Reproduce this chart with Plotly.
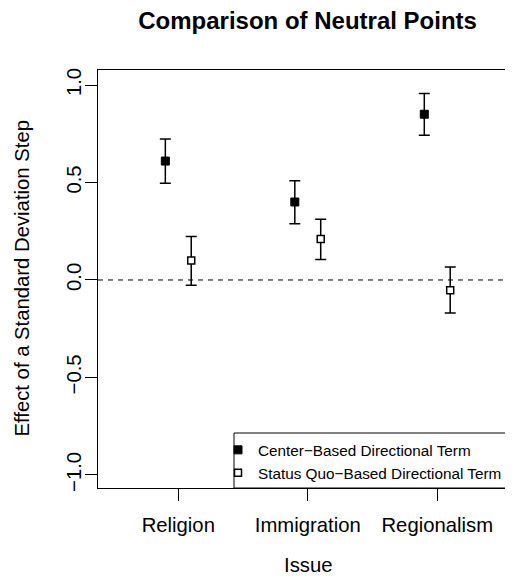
import plotly.graph_objects as go

# ---- data ----
issues = ["Religion", "Immigration", "Regionalism"]
center_est = [0.61, 0.40, 0.85]
center_lo = [0.496, 0.289, 0.742]
center_hi = [0.723, 0.509, 0.957]
sq_est = [0.10, 0.21, -0.053]
sq_lo = [-0.027, 0.105, -0.170]
sq_hi = [0.223, 0.311, 0.067]
yticks = [-1.0, -0.5, 0.0, 0.5, 1.0]
ytick_labels = ["\u22121.0", "\u22120.5", "0.0", "0.5", "1.0"]
series_names = ["Center\u2212Based Directional Term", "Status Quo\u2212Based Directional Term"]

FONT = "Liberation Sans, Arial, Helvetica, sans-serif"
BASE = 20.3

# the page body has an 8px margin, so the figure is drawn 8px smaller and offset
OFF = 8
W, H = 513 - OFF, 576 - OFF
L, R, T, B = 98 - OFF, 0, 70 - OFF, 88
pw, ph = W - L - R, H - T - B


def px_x(ref_x):
    return (ref_x - OFF - L) / pw


def px_y(ref_y):
    return (T + ph - (ref_y - OFF)) / ph


pos = list(range(1, len(issues) + 1))
off = 0.1

fig = go.Figure()

fig.add_trace(go.Scatter(
    x=[p - off for p in pos], y=center_est, mode="markers",
    name=series_names[0],
    marker=dict(symbol="square", size=8, color="black", line=dict(color="black", width=1)),
    error_y=dict(type="data", symmetric=False,
                 array=[h - e for h, e in zip(center_hi, center_est)],
                 arrayminus=[e - l for e, l in zip(center_est, center_lo)],
                 color="black", thickness=1.5, width=5.5),
))
fig.add_trace(go.Scatter(
    x=[p + off for p in pos], y=sq_est, mode="markers",
    name=series_names[1],
    marker=dict(symbol="square", size=7, color="white", line=dict(color="black", width=1.5)),
    error_y=dict(type="data", symmetric=False,
                 array=[h - e for h, e in zip(sq_hi, sq_est)],
                 arrayminus=[e - l for e, l in zip(sq_est, sq_lo)],
                 color="black", thickness=1.5, width=5.5),
))

# zero reference line
fig.add_shape(type="line", xref="paper", yref="y", x0=0, x1=1, y0=0, y1=0,
              line=dict(color="black", width=1, dash="5px,5px"))

# legend box
fig.add_shape(type="rect", xref="paper", yref="paper",
              x0=px_x(234), x1=px_x(512), y0=0, y1=px_y(433),
              line=dict(color="black", width=1), fillcolor="white", layer="above")

fig.update_layout(
    width=W, height=H,
    margin=dict(l=L, r=R, t=T, b=B, autoexpand=False),
    paper_bgcolor="white", plot_bgcolor="white",
    font=dict(family=FONT, size=BASE, color="black"),
    showlegend=True,
    legend=dict(x=px_x(218), xanchor="left", y=px_y(461.4), yanchor="middle",
                bgcolor="rgba(0,0,0,0)", borderwidth=0,
                font=dict(family=FONT, size=15.3, color="black"),
                tracegroupgap=0),
    title=dict(text="<b>Comparison of Neutral Points</b>", xref="container",
               x=(307.6 - OFF) / W, xanchor="center", yref="container",
               y=1 - (21 - OFF) / H, yanchor="middle",
               font=dict(family=FONT, size=24, color="black")),
    xaxis=dict(range=[0.38, 3.585], tickmode="array", tickvals=pos, ticktext=issues,
               showgrid=False, zeroline=False, showline=True, mirror=True,
               linecolor="black", linewidth=1, ticks="outside", ticklen=12,
               tickcolor="black", tickwidth=1, ticklabelstandoff=7),
    yaxis=dict(range=[-1.067, 1.077], tickmode="array", tickvals=yticks, ticktext=ytick_labels,
               tickangle=-90, showgrid=False, zeroline=False, showline=True, mirror=False,
               linecolor="black", linewidth=1, ticks="outside", ticklen=12,
               tickcolor="black", tickwidth=1, ticklabelstandoff=-4),
    annotations=[
        dict(text="Issue", xref="paper", yref="paper", x=px_x(307.6),
             y=px_y(565), xanchor="center", yanchor="middle",
             showarrow=False, font=dict(family=FONT, size=BASE, color="black")),
        dict(text="Effect of a Standard Deviation Step", xref="paper", yref="paper",
             x=px_x(21.5), y=0.5, xanchor="center", yanchor="middle", textangle=-90,
             showarrow=False, font=dict(family=FONT, size=BASE, color="black")),
    ],
)

fig.write_html("out.html")
